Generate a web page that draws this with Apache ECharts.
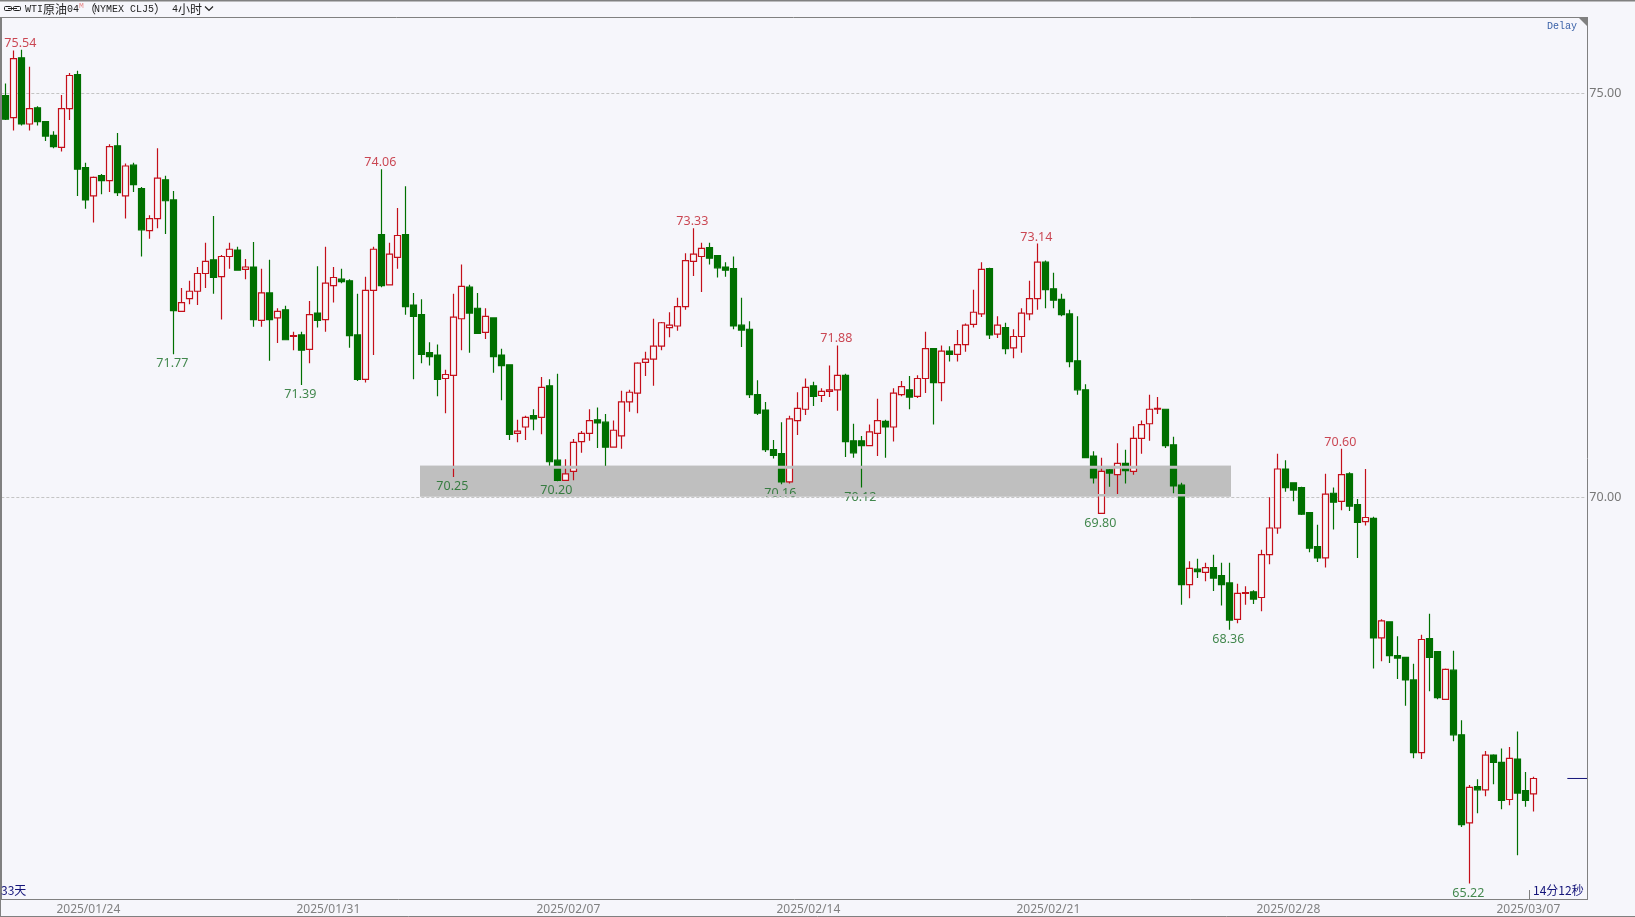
<!DOCTYPE html>
<html>
<head>
<meta charset="utf-8">
<title>WTI原油04</title>
<script src="https://cdn.jsdelivr.net/npm/echarts@6/dist/echarts.min.js"></script>
<style>
  html, body { margin: 0; padding: 0; background: #f6f6fb; }
  #main { width: 1635px; height: 917px; }
</style>
</head>
<body>
<div id="main"></div>
<script>
const opens = [
  74.97, 74.70, 75.44, 74.62, 74.82, 74.65, 74.48, 74.33, 74.81, 75.23,
  74.08, 73.73, 73.98, 73.92, 74.35, 73.73, 74.11, 73.82, 73.30, 73.45,
  73.93, 73.68, 72.30, 72.46, 72.55, 72.77, 72.94, 72.73, 72.98, 73.06,
  72.82, 72.85, 72.19, 72.53, 72.22, 72.32, 71.99, 72.01, 71.83, 72.28,
  72.20, 72.62, 72.70, 72.68, 72.01, 71.46, 72.56, 73.25, 72.63, 72.97,
  73.25, 72.38, 72.26, 71.79, 71.76, 71.47, 71.51, 72.21, 72.60, 72.34,
  72.04, 72.22, 71.76, 71.64, 70.79, 70.87, 71.01, 70.99, 71.38, 70.46,
  70.21, 70.32, 70.69, 70.79, 70.96, 70.93, 70.62, 70.76, 71.18, 71.29,
  71.67, 71.71, 71.87, 72.10, 72.12, 72.36, 72.92, 72.98, 73.09, 72.99,
  72.85, 72.83, 72.13, 72.08, 71.27, 71.08, 70.59, 70.54, 70.19, 70.95,
  71.09, 71.38, 71.26, 71.31, 71.33, 71.51, 70.70, 70.70, 70.64, 70.79,
  70.94, 70.87, 71.27, 71.33, 71.25, 71.47, 71.84, 71.42, 71.81, 71.77,
  71.89, 72.14, 72.27, 72.83, 72.02, 72.10, 71.85, 71.99, 72.27, 72.46,
  72.91, 72.58, 72.45, 72.27, 71.69, 71.33, 70.51, 69.80, 70.34, 70.28,
  70.42, 70.32, 70.73, 70.91, 71.09, 71.09, 70.65, 70.15, 68.92, 69.11,
  69.07, 69.13, 69.03, 68.94, 68.49, 68.81, 68.83, 68.76, 69.29, 69.62,
  70.35, 70.18, 70.12, 69.81, 69.39, 69.25, 70.05, 69.95, 70.29, 69.91,
  69.70, 69.74, 68.26, 68.46, 68.04, 68.02, 67.74, 66.84, 68.25, 68.09,
  67.50, 67.86, 67.06, 65.97, 66.42, 66.38, 66.81, 66.72, 66.26, 66.76,
  66.37, 66.33
]
const closes = [
  74.68, 75.43, 74.62, 74.81, 74.65, 74.47, 74.34, 74.81, 75.22, 74.06,
  73.68, 73.96, 73.92, 74.34, 73.77, 74.10, 73.87, 73.31, 73.45, 73.95,
  73.67, 72.31, 72.41, 72.55, 72.77, 72.92, 72.72, 72.98, 73.07, 72.81,
  72.85, 72.20, 72.53, 72.20, 72.30, 71.95, 72.00, 71.82, 72.26, 72.19,
  72.65, 72.72, 72.67, 72.00, 71.46, 72.56, 73.07, 72.62, 73.01, 73.24,
  72.36, 72.24, 71.77, 71.74, 71.46, 71.52, 72.23, 72.61, 72.28, 72.03,
  72.24, 71.74, 71.63, 70.78, 70.82, 70.99, 70.97, 71.36, 70.44, 70.21,
  70.29, 70.68, 70.79, 70.95, 70.92, 70.62, 70.83, 71.18, 71.30, 71.66,
  71.71, 71.87, 72.16, 72.13, 72.36, 72.93, 73.01, 73.08, 72.96, 72.84,
  72.81, 72.12, 72.07, 71.27, 71.04, 70.59, 70.52, 70.19, 70.97, 71.10,
  71.36, 71.25, 71.31, 71.33, 71.51, 70.69, 70.55, 70.64, 70.81, 70.95,
  70.87, 71.29, 71.37, 71.24, 71.47, 71.84, 71.42, 71.81, 71.77, 71.89,
  72.13, 72.29, 72.82, 72.01, 72.13, 71.84, 71.99, 72.28, 72.46, 72.91,
  72.57, 72.44, 72.26, 71.68, 71.33, 70.49, 70.24, 70.32, 70.30, 70.42,
  70.33, 70.73, 70.90, 71.09, 71.10, 70.64, 70.14, 68.92, 69.12, 69.08,
  69.13, 69.00, 68.92, 68.48, 68.81, 68.82, 68.74, 69.29, 69.62, 70.35,
  70.12, 70.09, 69.79, 69.37, 69.25, 70.04, 69.94, 70.28, 69.89, 69.69,
  69.75, 68.26, 68.47, 68.04, 68.01, 67.74, 66.84, 68.24, 68.02, 67.52,
  67.87, 67.06, 65.95, 66.41, 66.38, 66.81, 66.72, 66.25, 66.77, 66.34,
  66.25, 66.52
]
const lows = [
  74.67, 74.54, 74.60, 74.54, 74.60, 74.41, 74.32, 74.28, 74.67, 73.73,
  73.57, 73.40, 73.75, 73.78, 73.73, 73.45, 73.78, 72.98, 73.20, 73.33,
  73.26, 71.77, 72.30, 72.39, 72.38, 72.59, 72.52, 72.20, 72.83, 72.81,
  72.70, 72.11, 72.11, 71.69, 71.91, 71.95, 71.82, 71.39, 71.66, 72.10,
  72.05, 72.41, 72.65, 71.85, 71.44, 71.42, 71.76, 72.60, 72.62, 72.83,
  72.26, 71.46, 71.66, 71.63, 71.25, 71.04, 70.25, 71.82, 71.79, 72.03,
  71.96, 71.54, 71.20, 70.71, 70.68, 70.71, 70.83, 70.78, 70.39, 70.20,
  70.21, 70.21, 70.55, 70.70, 70.61, 70.38, 70.62, 70.60, 71.06, 71.04,
  71.50, 71.38, 71.82, 71.98, 72.06, 72.32, 72.74, 72.54, 72.88, 72.72,
  72.73, 72.08, 71.86, 71.23, 71.02, 70.56, 70.48, 70.16, 70.17, 70.77,
  71.02, 71.13, 71.18, 71.24, 71.07, 70.50, 70.49, 70.12, 70.64, 70.51,
  70.49, 70.69, 71.25, 71.09, 71.23, 71.29, 70.90, 71.19, 71.68, 71.68,
  71.80, 72.10, 72.23, 71.96, 71.97, 71.77, 71.72, 71.79, 72.19, 72.32,
  72.34, 72.34, 72.24, 71.61, 71.27, 70.49, 70.17, 69.80, 70.13, 70.04,
  70.17, 70.28, 70.54, 70.70, 71.03, 70.61, 70.05, 68.67, 68.75, 69.00,
  68.96, 68.84, 68.66, 68.36, 68.44, 68.67, 68.68, 68.59, 69.17, 69.55,
  70.07, 69.95, 69.78, 69.32, 69.20, 69.13, 69.60, 69.84, 69.83, 69.25,
  69.65, 67.88, 67.97, 67.95, 67.75, 67.42, 66.77, 66.76, 67.60, 67.50,
  67.49, 66.98, 65.92, 65.22, 66.09, 66.30, 66.45, 66.14, 66.19, 65.57,
  66.17, 66.11
]
const highs = [
  75.12, 75.53, 75.54, 75.33, 74.84, 74.65, 74.53, 74.98, 75.25, 75.28,
  74.14, 73.97, 74.00, 74.37, 74.51, 74.13, 74.14, 73.84, 73.49, 74.32,
  73.98, 73.79, 72.59, 72.68, 72.85, 73.15, 73.48, 73.00, 73.15, 73.10,
  72.95, 73.16, 72.83, 72.94, 72.34, 72.37, 72.05, 72.05, 72.43, 72.86,
  73.10, 72.85, 72.83, 72.70, 72.52, 72.73, 73.10, 74.06, 73.15, 73.58,
  73.85, 72.53, 72.45, 71.92, 71.89, 71.58, 72.52, 72.88, 72.63, 72.53,
  72.34, 72.22, 71.84, 71.64, 70.96, 71.01, 71.09, 71.49, 71.46, 71.53,
  70.47, 70.72, 70.82, 71.09, 71.11, 71.03, 70.95, 71.32, 71.33, 71.67,
  71.80, 72.21, 72.17, 72.29, 72.47, 73.02, 73.33, 73.15, 73.15, 73.00,
  72.91, 72.98, 72.47, 72.18, 71.45, 71.18, 70.71, 70.93, 71.01, 71.30,
  71.47, 71.43, 71.35, 71.63, 71.88, 71.53, 70.91, 70.76, 70.90, 71.22,
  70.96, 71.35, 71.44, 71.50, 71.51, 72.05, 71.84, 71.88, 71.87, 72.07,
  72.15, 72.57, 72.91, 72.84, 72.24, 72.16, 72.08, 72.34, 72.68, 73.14,
  72.93, 72.78, 72.52, 72.32, 72.24, 71.40, 70.57, 70.49, 70.35, 70.67,
  70.59, 70.88, 70.95, 71.27, 71.24, 71.09, 70.75, 70.18, 69.21, 69.24,
  69.19, 69.29, 69.19, 69.19, 68.93, 68.90, 68.85, 69.35, 70.00, 70.54,
  70.46, 70.18, 70.13, 69.81, 69.66, 70.29, 70.12, 70.60, 70.31, 69.98,
  70.35, 69.76, 68.49, 68.46, 68.28, 68.02, 67.94, 68.30, 68.56, 68.09,
  67.88, 68.10, 67.24, 66.44, 66.51, 66.86, 66.82, 66.89, 66.91, 67.10,
  66.60, 66.54
]

// swing labels: candle index of each marked high / low
const highMarks = [2, 47, 86, 104, 129, 167]
const lowMarks = [21, 37, 56, 69, 97, 107, 137, 153, 183]

const tickDates = ['2025/01/24', '2025/01/31', '2025/02/07', '2025/02/14', '2025/02/21', '2025/02/28', '2025/03/07']
const tickIndexes = [11, 41, 71, 101, 131, 161, 191]
const priceTicks = { min: 65, max: 76, step: 5 }
const zone = { from: 52, to: 153, top: 70.39, bottom: 70.01 }

const barCount = 198 // room to the right of the last candle
const categories = []
for (let i = 0; i < barCount; i++) {
  const at = tickIndexes.indexOf(i)
  categories.push(at >= 0 ? tickDates[at] : '')
}

const candles = opens.map((o, i) => [o, closes[i], lows[i], highs[i]])
const lastBar = closes.length - 1

const RED = '#c40f1a'
const GREEN = '#007000'
const LINE = '#808080'
const NAVY = '#14147a'
const LABEL_FONT = '"Noto Sans", sans-serif'
const MONO = '"Liberation Mono", monospace'
const CJK = '"Noto Sans CJK SC", sans-serif'

function frameLine(x1, y1, x2, y2, color) {
  return { type: 'line', z: 100, silent: true, shape: { x1, y1, x2, y2 }, style: { stroke: color || LINE, lineWidth: 1 } }
}
function text(x, y, str, font, size, color) {
  return {
    type: 'text', z: 101, silent: true, x, y,
    style: { text: str, fontFamily: font, fontSize: size, fill: color, textVerticalAlign: 'middle' }
  }
}

const option = {
  animation: false,
  backgroundColor: '#f6f6fb',
  grid: { left: 1.33, top: 12.5, width: 1584, height: 888.8 },
  xAxis: {
    type: 'category',
    data: categories,
    boundaryGap: true,
    axisLine: { show: false },
    axisTick: { show: false },
    splitLine: { show: false },
    axisLabel: {
      interval: (index, value) => value !== '',
      color: LINE,
      fontFamily: LABEL_FONT,
      fontSize: 12,
      margin: 2,
      padding: [0, 10, 0, 0],
      hideOverlap: false
    }
  },
  yAxis: {
    type: 'value',
    position: 'right',
    min: priceTicks.min,
    max: priceTicks.max,
    interval: priceTicks.step,
    axisLine: { show: false },
    axisTick: { show: false },
    axisLabel: {
      color: '#777777',
      fontFamily: LABEL_FONT,
      fontSize: 12.5,
      margin: 4,
      padding: [2, 0, 0, 0],
      showMinLabel: false,
      showMaxLabel: false,
      formatter: (v) => v.toFixed(2)
    },
    splitLine: {
      show: true,
      showMinLine: false,
      showMaxLine: false,
      lineStyle: { color: '#c4c4c4', width: 1, type: [3, 2] }
    }
  },
  series: [
    {
      // grey support band under the candles
      type: 'custom',
      z: 1,
      silent: true,
      data: [[zone.from, zone.to, zone.top, zone.bottom]],
      encode: { x: [0, 1], y: [2, 3] },
      renderItem: (params, api) => {
        const a = api.coord([api.value(0), api.value(2)])
        const b = api.coord([api.value(1), api.value(3)])
        return {
          type: 'rect',
          shape: { x: a[0] - 1.33, y: a[1], width: b[0] - a[0] + 3, height: b[1] - a[1] },
          style: { fill: '#bfbfbf' }
        }
      }
    },
    {
      type: 'candlestick',
      z: 2,
      data: candles,
      barWidth: 6,
      itemStyle: {
        color: '#f9f6fa',
        color0: GREEN,
        borderColor: RED,
        borderColor0: GREEN,
        borderWidth: 1.2
      }
    },
    {
      type: 'scatter',
      z: 4,
      silent: true,
      symbolSize: 0,
      data: highMarks.map((i) => [i, highs[i]]),
      label: {
        show: true,
        position: 'top',
        distance: 0,
        offset: [-1, 0],
        color: '#bf1a28',
        fontFamily: LABEL_FONT,
        fontSize: 12.5,
        formatter: (p) => p.value[1].toFixed(2)
      }
    },
    {
      type: 'scatter',
      z: 4,
      silent: true,
      symbolSize: 0,
      data: lowMarks.map((i) => [i, lows[i]]),
      label: {
        show: true,
        position: 'bottom',
        distance: 3,
        offset: [-1, 0],
        color: '#156b22',
        fontFamily: LABEL_FONT,
        fontSize: 12.5,
        formatter: (p) => p.value[1].toFixed(2)
      }
    },
    {
      // edges of the band sit on top of candles and labels
      type: 'custom',
      z: 5,
      silent: true,
      data: [[zone.from, zone.to, zone.top, zone.bottom]],
      encode: { x: [0, 1], y: [2, 3] },
      renderItem: (params, api) => {
        const a = api.coord([api.value(0), api.value(2)])
        const b = api.coord([api.value(1), api.value(3)])
        const x = a[0] - 1.33
        const width = b[0] - a[0] + 3
        return {
          type: 'group',
          children: [
            { type: 'rect', shape: { x, y: a[1], width, height: 3 }, style: { fill: '#bfbfbf' } },
            { type: 'rect', shape: { x, y: b[1] - 2.5, width, height: 2.5 }, style: { fill: '#bfbfbf' } }
          ]
        }
      }
    },
    {
      // last price marker at the right edge
      type: 'custom',
      z: 5,
      silent: true,
      data: [[lastBar, closes[lastBar]]],
      renderItem: (params, api) => {
        const p = api.coord([api.value(0), api.value(1)])
        return {
          type: 'line',
          shape: { x1: p[0] + 34, y1: p[1], x2: p[0] + 54, y2: p[1] },
          style: { stroke: NAVY, lineWidth: 1 }
        }
      }
    }
  ],
  graphic: [
    { type: 'rect', z: 100, silent: true, shape: { x: 0, y: 0, width: 1635, height: 1.5 }, style: { fill: LINE } },
    frameLine(0, 17.5, 1587, 17.5),
    frameLine(1587.5, 17, 1587.5, 900),
    frameLine(2, 899.5, 1587, 899.5),
    frameLine(0, 916.5, 1635, 916.5),
    { type: 'rect', z: 100, silent: true, shape: { x: 0, y: 17, width: 2, height: 883 }, style: { fill: LINE } },
    frameLine(0.5, 899, 0.5, 917),
    { type: 'polygon', z: 100, silent: true, shape: { points: [[1578, 17], [1588, 17], [1588, 27]] }, style: { fill: LINE } },
    frameLine(1529.5, 890, 1529.5, 899),
    text(1547, 26, 'Delay', MONO, 10, '#3b62a8'),
    text(1, 890, '33天', CJK, 12, NAVY),
    text(1533, 890.5, '14分12秒', CJK, 12, NAVY),
    // header strip
    { type: 'rect', z: 100, silent: true, shape: { x: 4.5, y: 6.5, width: 7, height: 4, r: 1 }, style: { fill: 'none', stroke: '#222', lineWidth: 1 } },
    { type: 'rect', z: 100, silent: true, shape: { x: 13.5, y: 6.5, width: 7, height: 4, r: 1 }, style: { fill: 'none', stroke: '#222', lineWidth: 1 } },
    frameLine(8, 8.5, 17, 8.5, '#222'),
    text(25, 9.5, 'WTI', MONO, 10, '#222'),
    text(43, 9.5, '原油', CJK, 12, '#222'),
    text(67, 9.5, '04', MONO, 10, '#222'),
    text(79, 6, 'M', MONO, 8, '#e88a8a'),
    text(84, 9.5, '（', CJK, 12, '#222'),
    text(94, 9.5, 'NYMEX CLJ5', MONO, 10, '#222'),
    text(154, 9.5, '）', CJK, 12, '#222'),
    text(172, 9.5, '4', MONO, 10, '#222'),
    text(178, 9.5, '小时', CJK, 12, '#222'),
    { type: 'polyline', z: 100, silent: true, shape: { points: [[205, 6.5], [209, 10.5], [213, 6.5]] }, style: { fill: 'none', stroke: '#222', lineWidth: 1.2 } }
  ]
}

echarts.init(document.getElementById('main')).setOption(option)
</script>
</body>
</html>
